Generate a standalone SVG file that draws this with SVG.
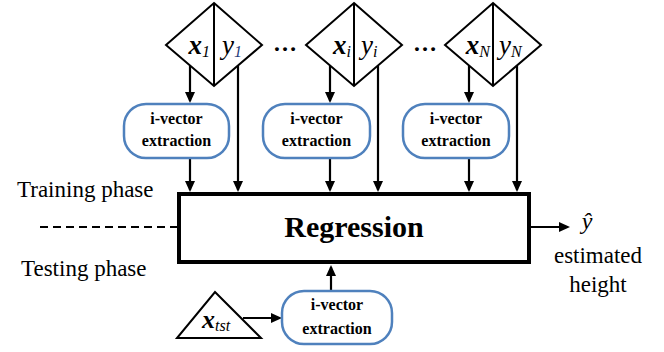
<svg xmlns="http://www.w3.org/2000/svg" width="664" height="352" viewBox="0 0 664 352" font-family="Liberation Serif, Tinos, Times New Roman, DejaVu Serif, Noto Serif, serif">
<style>
.shape{fill:#fff;stroke:#000;stroke-width:2;stroke-linejoin:miter}
.box{fill:#fff;stroke:#4f81bd;stroke-width:2.5}
.ln{fill:none;stroke:#000;stroke-width:2.2}
.bt{font-weight:bold;font-size:16px;text-anchor:middle}
.lx{font-size:27px;font-style:italic;font-weight:bold}
.ly{font-size:27px;font-style:italic}
.sub{font-size:16px;font-style:italic;font-weight:normal}
.lab{font-size:23px}
</style>
<defs>
<marker id="ah" markerUnits="userSpaceOnUse" markerWidth="12" markerHeight="11" refX="9" refY="5.5" orient="auto">
<path d="M0,0.5 L11,5.5 L0,10.5 z" fill="#000"/>
</marker>
</defs>

<g id="connectors">
<path class="ln" d="M190,66 V101" marker-end="url(#ah)"/>
<path class="ln" d="M190,158 V190" marker-end="url(#ah)"/>
<path class="ln" d="M238,66 V190" marker-end="url(#ah)"/>
<path class="ln" d="M330,66 V101" marker-end="url(#ah)"/>
<path class="ln" d="M330,158 V190" marker-end="url(#ah)"/>
<path class="ln" d="M378,66 V190" marker-end="url(#ah)"/>
<path class="ln" d="M469,66 V101" marker-end="url(#ah)"/>
<path class="ln" d="M469,158 V190" marker-end="url(#ah)"/>
<path class="ln" d="M517,66 V190" marker-end="url(#ah)"/>
<path class="ln" d="M531,227 H568" marker-end="url(#ah)"/>
<path class="ln" d="M331,291 V267" marker-end="url(#ah)"/>
<path class="ln" d="M243,318 H280" marker-end="url(#ah)"/>
<path class="ln" d="M40,227 H177" stroke-dasharray="8,5" stroke-width="2"/>
</g>

<g id="d1">
<path class="shape" d="M214,3 L262,45 L214,86 L166,45 Z M214,3 V86"/>
<text class="lx" x="210" y="54" text-anchor="end">x<tspan class="sub" dy="3">1</tspan></text>
<text class="ly" x="222" y="54">y<tspan class="sub" dy="3" fill="#1f3b7a">1</tspan></text>
</g>
<g id="d2">
<path class="shape" d="M354,3 L402,45 L354,86 L306,45 Z M354,3 V86"/>
<text class="lx" x="351" y="54" text-anchor="end">x<tspan class="sub" dy="3">i</tspan></text>
<text class="ly" x="361" y="54">y<tspan class="sub" dy="3">i</tspan></text>
</g>
<g id="d3">
<path class="shape" d="M493,3 L541,45 L493,86 L445,45 Z M493,3 V86"/>
<text class="lx" x="490" y="54" text-anchor="end">x<tspan class="sub" dy="3">N</tspan></text>
<text class="ly" x="499" y="54">y<tspan class="sub" dy="3">N</tspan></text>
</g>
<g id="dots">
<text x="285" y="51" font-size="24" font-weight="bold" text-anchor="middle">…</text>
<text x="425" y="51" font-size="24" font-weight="bold" text-anchor="middle">…</text>
</g>

<g id="iv1">
<rect class="box" x="124" y="104" width="105" height="54" rx="22" ry="22"/>
<text class="bt" x="176.5" y="124">i-vector</text>
<text class="bt" x="176.5" y="146">extraction</text>
</g>
<g id="iv2">
<rect class="box" x="263" y="104" width="107" height="54" rx="22" ry="22"/>
<text class="bt" x="316.5" y="124">i-vector</text>
<text class="bt" x="316.5" y="146">extraction</text>
</g>
<g id="iv3">
<rect class="box" x="403" y="104" width="106" height="54" rx="22" ry="22"/>
<text class="bt" x="456" y="124">i-vector</text>
<text class="bt" x="456" y="146">extraction</text>
</g>
<g id="iv4">
<rect class="box" x="282" y="291" width="110" height="53" rx="22" ry="22"/>
<text class="bt" x="337" y="310">i-vector</text>
<text class="bt" x="337" y="334">extraction</text>
</g>

<g id="regression">
<rect x="179" y="194" width="350" height="68" fill="#fff" stroke="#000" stroke-width="4"/>
<text x="354" y="237" font-size="30" font-weight="bold" text-anchor="middle">Regression</text>
</g>

<g id="xtst">
<path class="shape" d="M215,292 L261,338 L177,338 Z"/>
<text x="202" y="328" font-size="26" font-style="italic" font-weight="bold">x<tspan font-size="16" font-weight="normal" dy="3">tst</tspan></text>
</g>

<g id="labels">
<text class="lab" x="17" y="197">Training phase</text>
<text class="lab" x="21" y="276">Testing phase</text>
<text x="587" y="229" font-size="24" font-style="italic" text-anchor="middle">ŷ</text>
<text class="lab" x="598" y="263" text-anchor="middle">estimated</text>
<text class="lab" x="598" y="292" text-anchor="middle">height</text>
</g>
</svg>
